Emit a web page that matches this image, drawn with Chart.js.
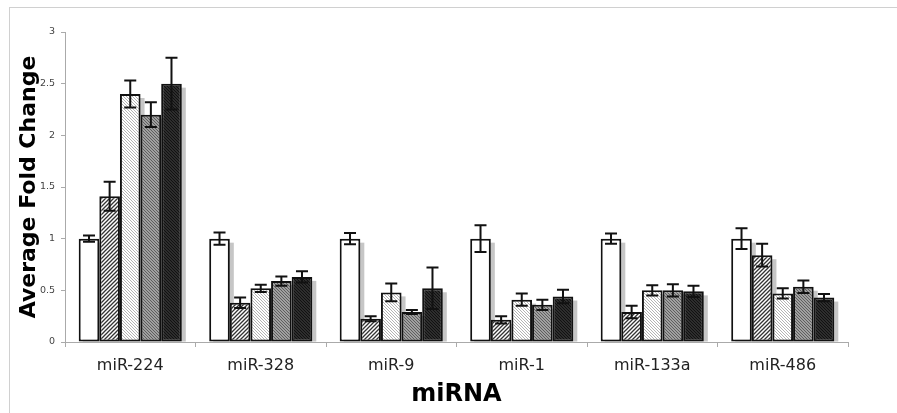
<!DOCTYPE html>
<html>
<head>
<meta charset="utf-8">
<script src="https://cdn.jsdelivr.net/npm/chart.js@4"></script>
<style>
  html, body { margin: 0; padding: 0; background: #fff; }
  #wrap { position: relative; width: 897px; height: 413px; }
</style>
</head>
<body>
<div id="wrap"><canvas id="c" width="897" height="413"></canvas></div>
<script>
// ---- data ----
const categories = ['miR-224', 'miR-328', 'miR-9', 'miR-1', 'miR-133a', 'miR-486'];
const series1 = [1.00, 1.00, 1.00, 1.00, 1.00, 1.00];
const series2 = [1.41, 0.38, 0.225, 0.215, 0.29, 0.84];
const series3 = [2.40, 0.52, 0.48, 0.41, 0.50, 0.47];
const series4 = [2.20, 0.59, 0.29, 0.36, 0.50, 0.535];
const series5 = [2.50, 0.63, 0.52, 0.44, 0.49, 0.43];
const err1 = [0.03, 0.06, 0.055, 0.13, 0.05, 0.10];
const err2 = [0.14, 0.05, 0.025, 0.035, 0.06, 0.11];
const err3 = [0.13, 0.035, 0.085, 0.06, 0.05, 0.05];
const err4 = [0.12, 0.045, 0.02, 0.05, 0.06, 0.06];
const err5 = [0.25, 0.055, 0.20, 0.065, 0.055, 0.035];
const yTicks = [0, 0.5, 1, 1.5, 2, 2.5, 3];
const yTickLabels = ['0', '0.5', '1', '1.5', '2', '2.5', '3'];

// ---- patterns ----
function hatch(bg, fg, dir, s, lw) {
  const c = document.createElement('canvas');
  c.width = s; c.height = s;
  const g = c.getContext('2d');
  g.fillStyle = bg; g.fillRect(0, 0, s, s);
  g.strokeStyle = fg; g.lineWidth = lw;
  g.beginPath();
  if (dir === '/') {
    g.moveTo(-1, s + 1); g.lineTo(s + 1, -1);
    g.moveTo(-1, 1); g.lineTo(1, -1);
    g.moveTo(s - 1, s + 1); g.lineTo(s + 1, s - 1);
  } else {
    g.moveTo(-1, -1); g.lineTo(s + 1, s + 1);
    g.moveTo(s - 1, -1); g.lineTo(s + 1, 1);
    g.moveTo(-1, s - 1); g.lineTo(1, s + 1);
  }
  g.stroke();
  return document.getElementById('c').getContext('2d').createPattern(c, 'repeat');
}
const fills = [
  '#ffffff',
  hatch('#ffffff', '#333333', '/', 4, 1.3),
  hatch('#ffffff', '#b4b4b4', '\\', 3, 1),
  hatch('#a0a0a0', '#5e5e5e', '\\', 3, 1),
  hatch('#4a4a4a', '#111111', '\\', 3, 1.4)
];
const seriesAll = [series1, series2, series3, series4, series5];
const errAll = [err1, err2, err3, err4, err5];

const frame = {
  id: 'frame',
  beforeDraw(chart) {
    const ctx = chart.ctx;
    ctx.save();
    ctx.strokeStyle = '#d0d0d0';
    ctx.lineWidth = 1;
    ctx.strokeRect(9.5, 7.5, 900, 420);
    ctx.restore();
  }
};
const shadow = {
  id: 'shadow',
  beforeDatasetsDraw(chart) {
    const ctx = chart.ctx;
    ctx.save();
    ctx.fillStyle = '#c6c6c6';
    chart.data.datasets.forEach((ds, i) => {
      chart.getDatasetMeta(i).data.forEach(el => {
        const p = el.getProps(['x', 'y', 'base', 'width'], true);
        ctx.fillRect(p.x - p.width / 2 + 4, p.y + 4, p.width, p.base - p.y - 4);
      });
    });
    ctx.restore();
  }
};
const errorBars = {
  id: 'errorBars',
  afterDatasetsDraw(chart) {
    const ctx = chart.ctx;
    const ys = chart.scales.y;
    ctx.save();
    ctx.strokeStyle = '#111';
    ctx.lineWidth = 2;
    chart.data.datasets.forEach((ds, i) => {
      chart.getDatasetMeta(i).data.forEach((el, j) => {
        const v = seriesAll[i][j], e = errAll[i][j];
        const x = el.x;
        const t = ys.getPixelForValue(v + e), b = ys.getPixelForValue(v - e);
        const w = 6;
        ctx.beginPath();
        ctx.moveTo(x, t); ctx.lineTo(x, b);
        ctx.moveTo(x - w, t); ctx.lineTo(x + w, t);
        ctx.moveTo(x - w, b); ctx.lineTo(x + w, b);
        ctx.stroke();
      });
    });
    ctx.restore();
  }
};

new Chart(document.getElementById('c'), {
  type: 'bar',
  data: {
    labels: categories,
    datasets: seriesAll.map((d, i) => ({
      label: 'Series ' + (i + 1),
      data: d,
      backgroundColor: fills[i],
      borderColor: '#111',
      borderWidth: 2,
      borderSkipped: false,
      categoryPercentage: 0.79,
      barPercentage: 1.0
    }))
  },
  options: {
    responsive: false,
    animation: false,
    layout: { padding: { left: 0, right: 49, top: 32, bottom: 0 } },
    plugins: { legend: { display: false }, tooltip: { enabled: false } },
    scales: {
      x: {
        grid: { display: true, drawOnChartArea: false, drawTicks: true, tickLength: 5, offset: true, color: '#aaa' },
        border: { color: '#aaa', width: 1 },
        ticks: { color: '#222', font: { family: 'DejaVu Sans', size: 16 }, padding: 9, maxRotation: 0 },
        title: { display: true, text: 'miRNA', color: '#000', font: { family: 'DejaVu Sans', weight: 'bold', size: 24 }, padding: { top: 0, bottom: 4 } },
        afterFit(s) { s.height = 71; }
      },
      y: {
        min: 0, max: 3,
        afterBuildTicks(s) { s.ticks = yTicks.map(v => ({ value: v })); },
        grid: { display: true, drawOnChartArea: false, drawTicks: true, tickLength: 4, color: '#aaa' },
        border: { color: '#aaa', width: 1 },
        ticks: {
          color: '#444', font: { family: 'DejaVu Sans', size: 9.5 }, padding: 6,
          callback: (v) => yTickLabels[yTicks.indexOf(v)]
        },
        title: { display: true, text: 'Average Fold Change', color: '#000', font: { family: 'DejaVu Sans', weight: 'bold', size: 22 }, padding: { top: 16, bottom: 0 } },
        afterFit(s) { s.width = 65; }
      }
    }
  },
  plugins: [frame, shadow, errorBars]
});
</script>
</body>
</html>
